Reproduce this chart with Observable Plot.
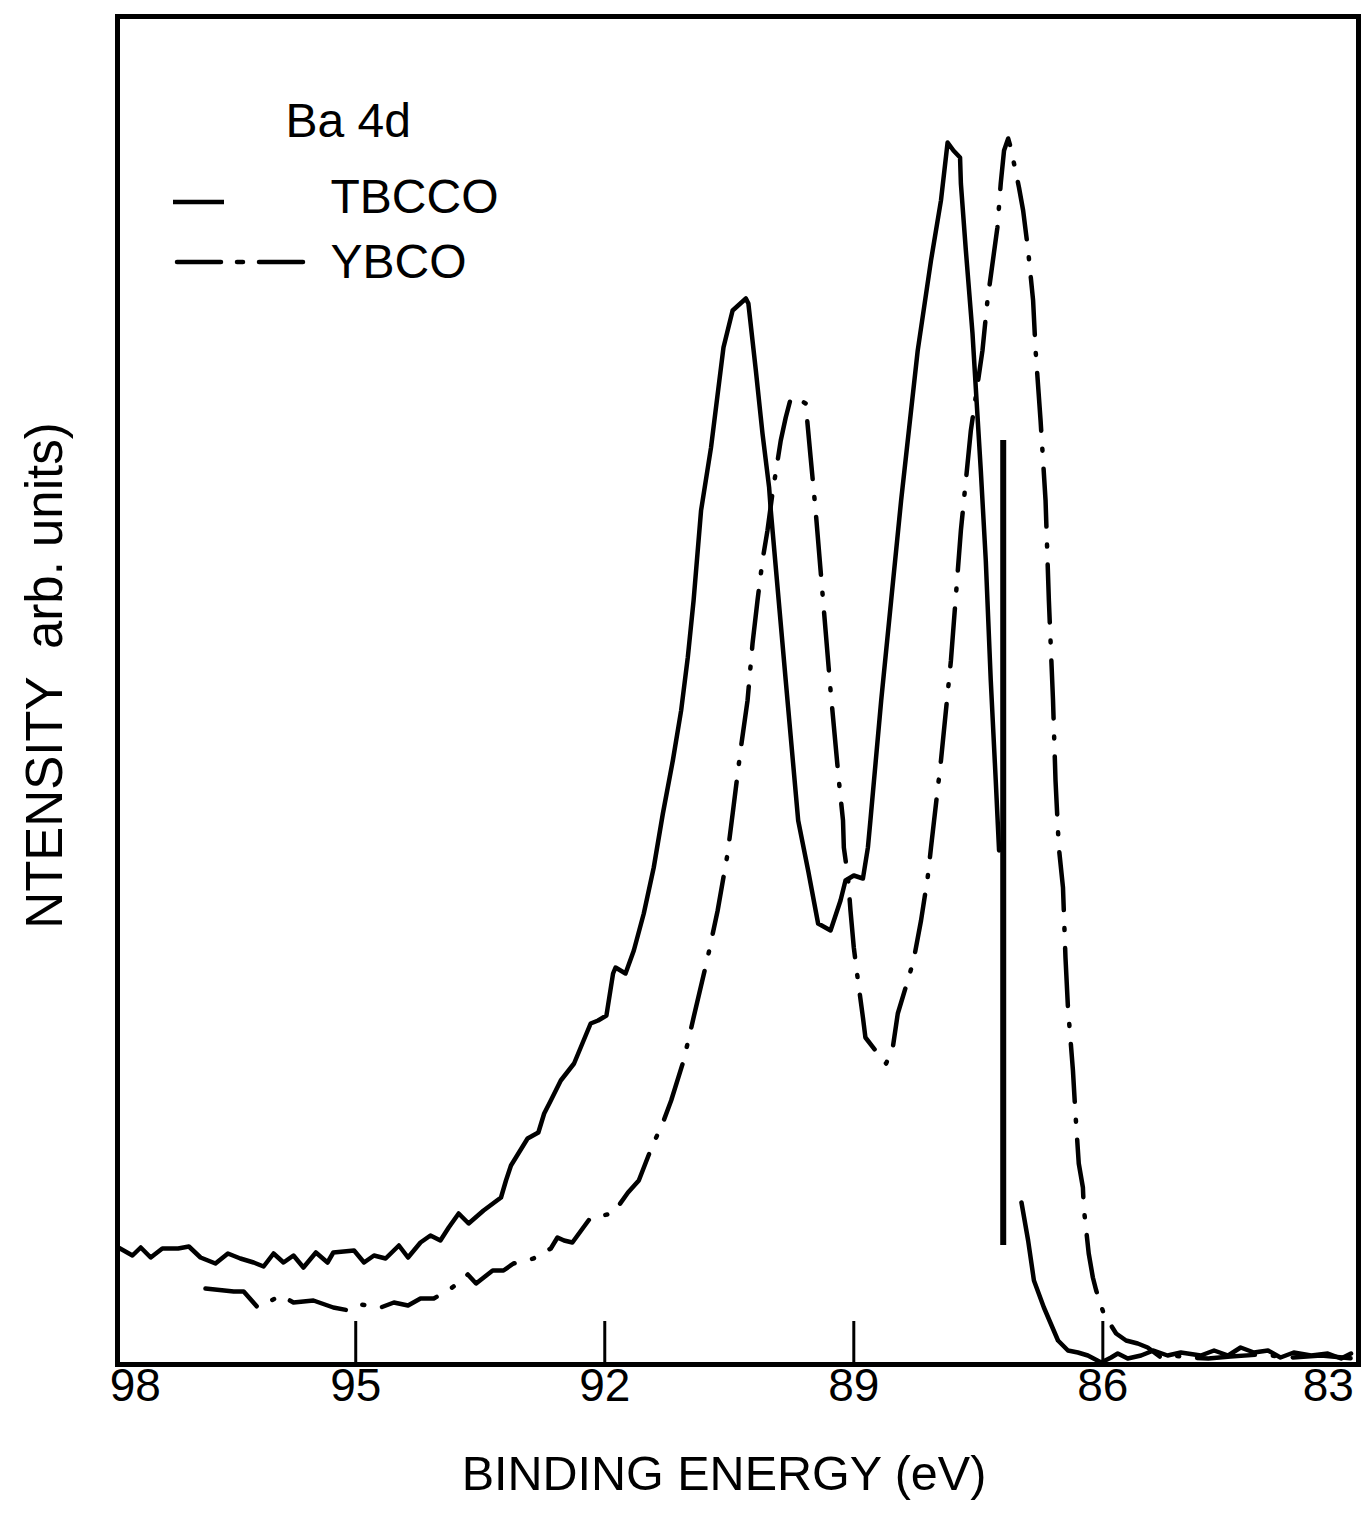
<!DOCTYPE html>
<html><head><meta charset="utf-8">
<script src="https://cdn.jsdelivr.net/npm/d3@7"></script>
<script src="https://cdn.jsdelivr.net/npm/@observablehq/plot@0.6"></script>
<style>body{margin:0;background:#fff} svg{display:block}</style>
</head><body><div id="chart"></div>
<script>
// Ba 4d XPS spectra — binding energy (eV) vs intensity (arb. units)
const tbccoE = [97.86,97.69,97.59,97.47,97.33,97.14,97.01,96.87,96.69,96.54,96.39,96.23,96.11,95.99,95.87,95.75,95.63,95.48,95.34,95.27,95.02,94.90,94.78,94.64,94.48,94.37,94.22,94.10,93.98,93.88,93.76,93.64,93.46,93.25,93.19,93.13,92.93,92.80,92.73,92.65,92.53,92.37,92.17,92.08,91.98,91.90,91.87,91.75,91.65,91.53,91.41,91.30,91.18,91.08,91.00,90.93,90.84,90.72,90.57,90.46,90.30,90.27,90.18,90.10,90.02,90.00,89.82,89.67,89.55,89.43,89.28,89.16,89.10,89.00,88.89,88.83,88.80,88.67,88.55,88.43,88.23,88.07,87.95,87.87,87.80,87.72,87.71,87.65,87.57,87.47,87.41,87.35,87.29,87.25,87.10,86.98,86.90,86.83,86.71,86.54,86.42,86.30,86.18,86.02,85.90,85.82,85.70,85.54,85.39,85.22,85.06,84.82,84.66,84.49,84.34,84.18,84.01,83.86,83.70,83.49,83.29,83.13,83.01];
const tbccoI = [11.7,10.9,11.7,10.7,11.6,11.6,11.8,10.7,10.1,11.1,10.6,10.2,9.8,11.1,10.2,10.9,9.7,11.2,10.2,11.2,11.4,10.2,10.9,10.6,11.9,10.7,12.2,12.9,12.4,13.7,15.1,14.1,15.4,16.7,18.4,19.9,22.6,23.2,25.1,26.4,28.4,30.1,34.1,34.4,34.9,39.1,39.7,39.1,41.4,45.1,49.7,55.1,60.4,65.4,70.7,76.4,85.4,91.7,101.7,105.4,106.6,106.1,99.4,93.1,87.7,85.4,68.4,54.4,49.4,44.1,43.4,46.4,48.4,48.9,48.6,51.7,54.4,66.4,76.4,86.4,101.4,110.4,116.4,122.2,121.4,120.7,118.1,111.4,103.1,89.4,80.4,68.4,58.4,51.4,null,16.2,12.4,8.4,5.7,2.4,1.4,1.2,0.9,0.2,0.7,1.1,0.6,0.9,1.4,0.9,1.2,0.9,1.4,0.9,1.7,1.2,1.4,0.7,1.2,0.9,1.1,0.6,1.1];

const ybcoE = [96.81,96.47,96.35,96.18,95.90,95.75,95.51,95.27,95.08,94.94,94.70,94.54,94.37,94.22,94.06,93.89,93.77,93.65,93.55,93.35,93.22,93.10,92.86,92.65,92.57,92.49,92.39,92.17,91.90,91.72,91.59,91.45,91.29,91.20,91.05,90.93,90.76,90.64,90.52,90.45,90.36,90.28,90.22,90.16,90.10,90.04,89.98,89.88,89.82,89.76,89.70,89.58,89.52,89.46,89.40,89.28,89.18,89.13,89.12,89.07,89.04,89.00,88.95,88.89,88.86,88.71,88.61,88.53,88.47,88.35,88.28,88.19,88.11,88.07,87.95,87.83,87.71,87.59,87.45,87.39,87.27,87.23,87.19,87.14,87.11,87.01,86.96,86.90,86.84,86.81,86.75,86.69,86.65,86.60,86.57,86.53,86.48,86.45,86.42,86.36,86.33,86.29,86.24,86.23,86.17,86.12,86.08,85.99,85.84,85.72,85.58,85.46,85.30,85.14,84.98,84.73,84.46,84.10,83.73,83.37,82.99];
const ybcoI = [7.6,7.3,7.3,5.7,6.9,6.2,6.4,5.7,5.4,6.0,5.7,6.2,5.9,6.6,6.6,7.4,8.1,9.0,8.1,9.4,9.4,10.1,10.6,11.6,12.7,12.4,12.2,14.7,15.1,17.2,18.4,21.4,24.4,26.4,30.4,34.7,40.7,45.4,51.1,55.7,61.7,66.4,72.1,76.4,80.4,83.4,87.1,92.4,94.7,96.6,96.7,96.1,90.7,85.4,79.4,67.4,58.4,54.4,51.7,48.7,45.4,41.7,38.4,34.7,32.7,31.1,30.1,31.7,35.1,38.4,40.4,44.4,48.7,51.7,60.4,70.4,83.4,93.4,101.4,106.4,113.7,118.1,121.4,122.6,121.7,117.7,115.4,111.4,106.4,101.4,94.4,86.4,76.4,66.4,58.4,51.7,47.7,40.7,35.7,29.4,25.1,20.1,17.7,15.7,11.1,8.7,7.4,5.1,3.1,2.4,2.1,1.7,0.7,0.9,0.7,0.6,0.8,1.0,0.7,0.9,0.6];

// vertical scan artifact (solid bar) near 87.2 eV
const artifactE = [87.2];
const artifactTop = [92.4];
const artifactBottom = [11.9];

const tickValues = [95, 92, 89, 86];
const tickLabels = [98, 95, 92, 89, 86, 83];
const seriesNames = ["TBCCO", "YBCO"];
const panelTitle = "Ba 4d";
const xTitle = "BINDING ENERGY (eV)";
const yTitle = "NTENSITY  arb. units)";

const tbcco = tbccoE.map((e, k) => ({e, v: tbccoI[k]}));
const ybco = ybcoE.map((e, k) => ({e, v: ybcoI[k]}));
const artifact = artifactE.map((e, k) => ({e, top: artifactTop[k], bottom: artifactBottom[k]}));

const FONT = "Liberation Sans, Arial, Helvetica, sans-serif";
const DASH = "58,18,2,18";

function legendLines(index, scales, values, dims) {
  const g = d3.create("svg:g").attr("stroke", "black").attr("stroke-width", 4.5);
  const L = dims.marginLeft, T = dims.marginTop;
  g.append("line").attr("x1", L + 56).attr("x2", L + 107).attr("y1", T + 186).attr("y2", T + 186);
  g.append("line").attr("x1", L + 60).attr("x2", L + 186).attr("y1", T + 246).attr("y2", T + 246)
    .attr("stroke-dasharray", "44,16,6,16,44").attr("stroke-linecap", "round");
  return g.node();
}

const chart = Plot.plot({
  width: 1362,
  height: 1513,
  marginLeft: 117,
  marginRight: 4,
  marginTop: 16,
  marginBottom: 149,
  style: {fontFamily: FONT, background: "white", color: "black"},
  x: {domain: [97.87, 82.92], axis: null},
  y: {domain: [0, 134.8], axis: null},
  marks: [
    Plot.frame({stroke: "black", strokeWidth: 5}),
    Plot.ruleX(tickValues, {x: d => d, y1: 0, y2: 4.3, stroke: "black", strokeWidth: 3}),
    Plot.line(tbcco, {x: "e", y: "v", stroke: "black", strokeWidth: 4.5, strokeLinejoin: "round", strokeLinecap: "round"}),
    Plot.line(ybco, {x: "e", y: "v", stroke: "black", strokeWidth: 4.5, strokeLinejoin: "round", strokeLinecap: "round", strokeDasharray: DASH}),
    Plot.ruleX(artifact, {x: "e", y1: "bottom", y2: "top", stroke: "black", strokeWidth: 6}),
    // x tick labels
    Plot.text(tickLabels.slice(1, -1), {x: d => d, frameAnchor: "bottom", dy: 22, text: d => String(d), fontSize: 46, lineAnchor: "middle", fill: "black"}),
    Plot.text(tickLabels.slice(0, 1), {x: d => d, frameAnchor: "bottom", dy: 22, text: d => String(d), fontSize: 46, lineAnchor: "middle", textAnchor: "start", dx: 3, fill: "black"}),
    Plot.text(tickLabels.slice(-1), {x: d => d, frameAnchor: "bottom", dy: 22, text: d => String(d), fontSize: 46, lineAnchor: "middle", textAnchor: "end", dx: 2, fill: "black"}),
    // axis titles
    Plot.text([xTitle], {frameAnchor: "bottom", text: d => d, dx: -14, dy: 110, fontSize: 48.5, lineAnchor: "middle", fill: "black"}),
    Plot.text([yTitle], {frameAnchor: "left", text: d => d, dx: -72, dy: -15, rotate: -90, fontSize: 51, textAnchor: "middle", lineAnchor: "middle", fill: "black"}),
    // legend
    Plot.text([panelTitle], {frameAnchor: "top-left", text: d => d, dx: 168, dy: 105, fontSize: 48, textAnchor: "start", lineAnchor: "middle", fill: "black"}),
    Plot.text([seriesNames[0]], {frameAnchor: "top-left", text: d => d, dx: 213, dy: 181, fontSize: 48, textAnchor: "start", lineAnchor: "middle", fill: "black"}),
    Plot.text([seriesNames[1]], {frameAnchor: "top-left", text: d => d, dx: 213, dy: 246, fontSize: 48, textAnchor: "start", lineAnchor: "middle", fill: "black"}),
    legendLines
  ]
});
document.getElementById("chart").append(chart);
</script>
</body></html>
